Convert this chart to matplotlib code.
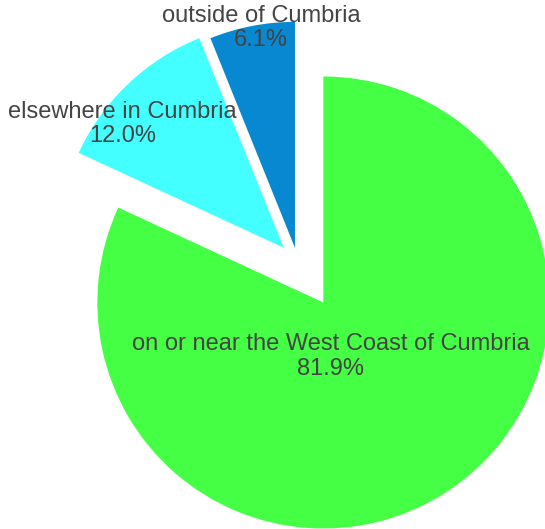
import numpy as np
import matplotlib.pyplot as plt

plt.rcParams['font.family'] = ['Liberation Sans', 'DejaVu Sans']

labels = ['on or near the West Coast of Cumbria', 'elsewhere in Cumbria', 'outside of Cumbria']
shares = [81.9, 12.0, 6.1]
colors = ['#44ff44', '#44ffff', '#0788d0']
pulls = [0.21, 0.09, 0.066]

W, H = 545, 529
fig = plt.figure(figsize=(W / 100, H / 100), dpi=100)
ax = fig.add_axes([0, 0, 1, 1])

wedges, _ = ax.pie(shares, colors=colors, explode=pulls, startangle=90,
                   counterclock=False, radius=1.0,
                   wedgeprops={'linewidth': 0})

# pie centre and radius in pixels
cx, cy, R = 297.8, 262.5, 226.0
ax.set_xlim(-cx / R, (W - cx) / R)
ax.set_ylim(-(H - cy) / R, cy / R)
ax.set_aspect('auto')
ax.axis('off')

# label placement: (radial factor, angle offset in deg) per wedge
place = [(0.24, -25), (0.90, 9), (0.985, -2.2)]
for w, lab, val, (rf, da) in zip(wedges, labels, shares, place):
    mid = np.deg2rad((w.theta1 + w.theta2) / 2 + da)
    x0, y0 = w.center
    tx = x0 + rf * np.cos(mid)
    ty = y0 + rf * np.sin(mid)
    ax.text(tx, ty, f'{lab}\n{val:.1f}%', ha='center', va='center',
            fontsize=17, color='#444444', linespacing=1.15)

fig.savefig('out.png', dpi=100)
